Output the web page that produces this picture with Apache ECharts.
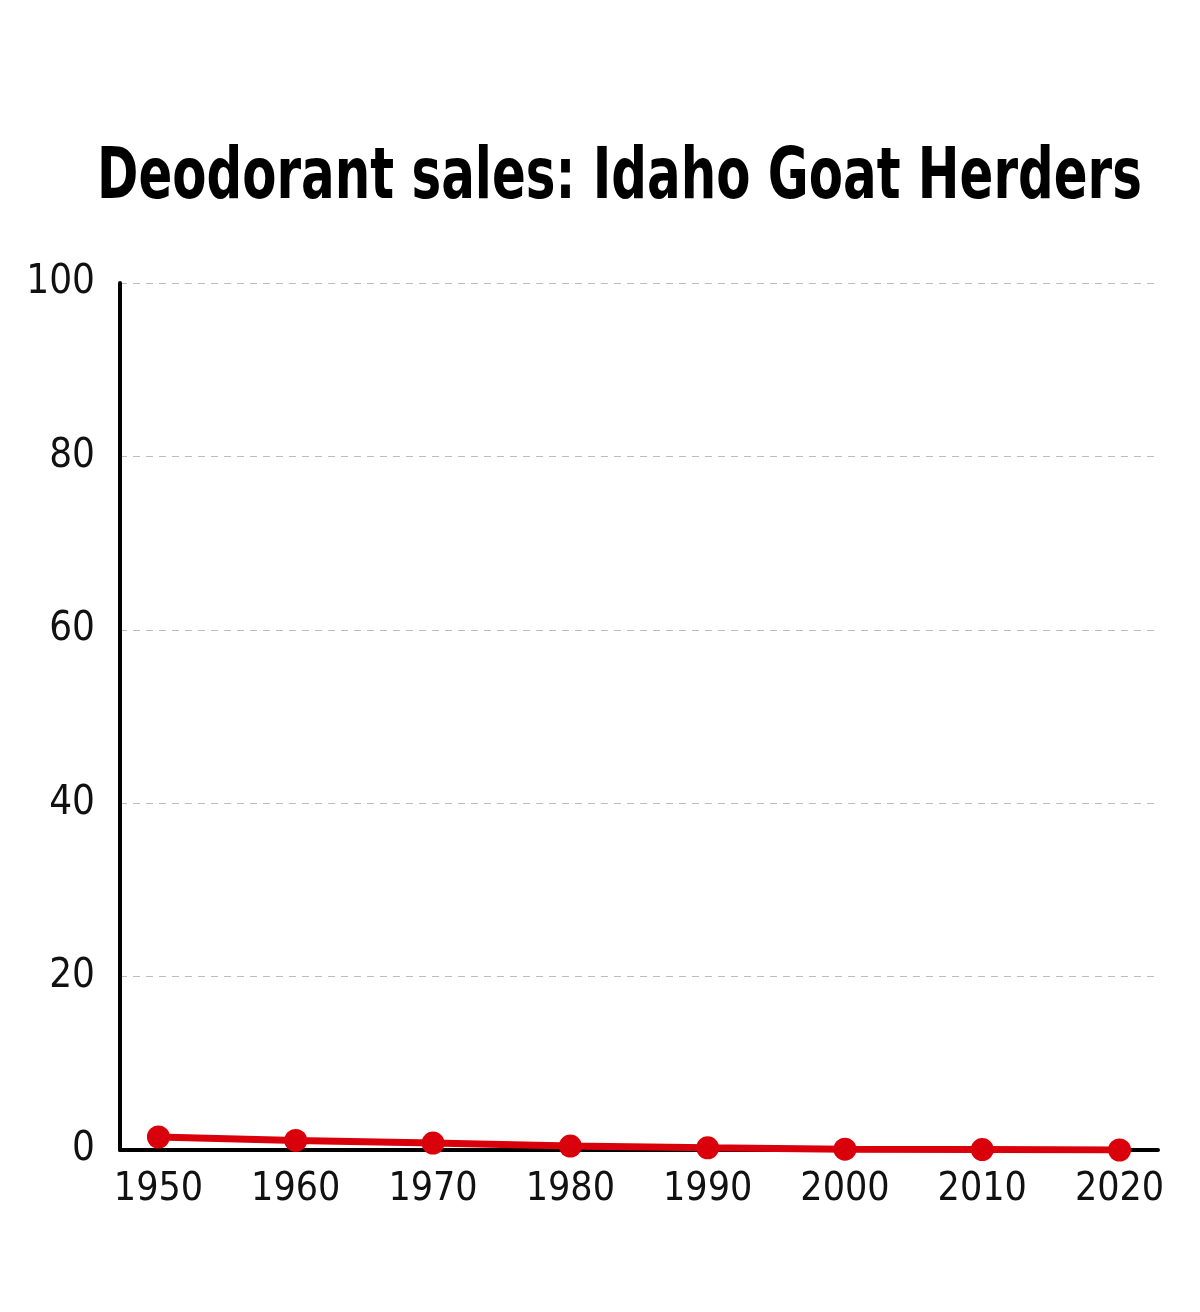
<!DOCTYPE html>
<html>
<head>
<meta charset="utf-8">
<script src="https://cdn.jsdelivr.net/npm/echarts@6/dist/echarts.min.js"></script>
<style>
	html, body { margin: 0; padding: 0; background: #fff; }
	#chart { width: 1200px; height: 1312px; }
</style>
</head>
<body>
<div id="chart"></div>
<script>
var years = [1950, 1960, 1970, 1980, 1990, 2000, 2010, 2020];
var sales = [1.5, 1.1, 0.8, 0.45, 0.25, 0.1, 0.05, 0];
var yTicks = [0, 20, 40, 60, 80, 100];
var titleText = 'Deodorant sales: Idaho Goat Herders';

var narrow = '"Liberation Sans Narrow", "DejaVu Sans Condensed", sans-serif';

var chart = echarts.init(document.getElementById('chart'));
var option = {
	backgroundColor: '#fff',
	animation: false,
	// title drawn as graphic so it can be squeezed like the condensed original
	graphic: [{
		type: 'text',
		x: 97,
		y: 179,
		scaleX: 0.77,
		originX: 0,
		style: {
			text: titleText,
			font: 'bold 72px "DejaVu Sans Condensed", sans-serif',
			fill: '#000',
			textAlign: 'left',
			textVerticalAlign: 'middle'
		}
	}],
	grid: {
		left: 120,
		right: 42,
		top: 283,
		bottom: 162
	},
	xAxis: {
		type: 'value',
		min: 1947.2,
		max: 2022.8,
		splitLine: { show: false },
		axisTick: { show: false },
		axisLine: {
			show: true,
			lineStyle: { color: '#000', width: 4 }
		},
		axisLabel: {
			customValues: years,
			showMinLabel: true,
			showMaxLabel: true,
			margin: 20,
			fontFamily: narrow,
			fontSize: 39,
			color: '#111',
			formatter: function(v) {
				return String(v);
			}
		}
	},
	yAxis: {
		type: 'value',
		min: yTicks[0],
		max: yTicks[yTicks.length - 1],
		interval: 20,
		axisTick: { show: false },
		axisLine: {
			show: true,
			lineStyle: { color: '#000', width: 4 }
		},
		splitLine: {
			show: true,
			lineStyle: { color: '#bdbdbd', type: [7, 6], width: 1.2 }
		},
		axisLabel: {
			margin: 25,
			fontFamily: narrow,
			fontSize: 40,
			color: '#111'
		}
	},
	series: [{
		type: 'line',
		data: years.map(function(y, i) { return [y, sales[i]]; }),
		symbol: 'circle',
		symbolSize: 23,
		z: 5,
		itemStyle: { color: '#d9000b' },
		lineStyle: { color: '#d9000b', width: 7 }
	}]
};
chart.setOption(option);
</script>
</body>
</html>
